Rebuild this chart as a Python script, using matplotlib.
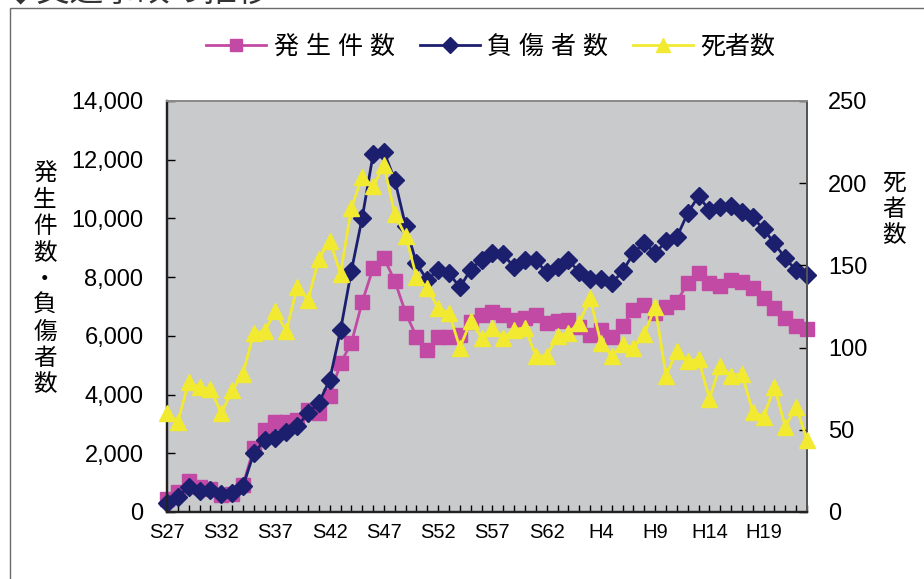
import matplotlib
matplotlib.use('Agg')
import matplotlib.pyplot as plt
from matplotlib.lines import Line2D
from matplotlib.ticker import FuncFormatter, MultipleLocator
from matplotlib.patches import Rectangle

plt.rcParams['font.family'] = ['Liberation Sans', 'Noto Sans CJK JP']

# S27 (1952) .. H23 (2011)
tick_labels = ['S27', 'S32', 'S37', 'S42', 'S47', 'S52', 'S57', 'S62',
               'H4', 'H9', 'H14', 'H19']

incidents = [450, 680, 1070, 850, 800, 580, 620, 920, 2170, 2780,
             3060, 3080, 3120, 3470, 3380, 3940, 5070, 5760, 7160, 8310,
             8650, 7870, 6780, 5970, 5520, 5970, 5970, 6030, 6480, 6710,
             6820, 6710, 6540, 6600, 6710, 6430, 6520, 6540, 6310, 6030,
             6200, 5970, 6340, 6880, 7060, 6780, 6990, 7160, 7800, 8140,
             7800, 7700, 7900, 7830, 7620, 7280, 6940, 6600, 6340, 6230]

injured = [300, 520, 860, 700, 750, 620, 660, 870, 2000, 2450,
           2510, 2740, 2930, 3360, 3720, 4500, 6200, 8220, 10030, 12180,
           12270, 11310, 9740, 8470, 7890, 8260, 8130, 7650, 8260, 8600,
           8810, 8780, 8330, 8600, 8570, 8160, 8330, 8600, 8160, 7920,
           7920, 7790, 8200, 8810, 9180, 8810, 9220, 9360, 10180, 10760,
           10280, 10380, 10410, 10210, 10040, 9630, 9150, 8640, 8230, 8060]

deaths = [60, 55, 79, 76, 75, 60, 74, 84, 109, 110,
          122, 110, 137, 129, 154, 165, 145, 185, 204, 198,
          211, 181, 168, 143, 136, 124, 121, 100, 116, 106,
          112, 106, 111, 112, 95, 95, 107, 109, 115, 130,
          103, 95, 102, 100, 108, 125, 83, 98, 92, 93,
          69, 89, 83, 84, 61, 58, 76, 52, 64, 44]

years = list(range(len(incidents)))

c_inc = '#C24AA4'
c_inj = '#1C1F6E'
c_dth = '#F2EA30'

fig = plt.figure(figsize=(9.24, 5.79), dpi=100)

# outer frame and heading (runs off the top edge)
fig.patches.append(Rectangle((10 / 924, -0.1), 1.1, 1 - 8 / 579 + 0.1,
                             transform=fig.transFigure, fill=False,
                             edgecolor='#6a6a6a', linewidth=1.0))
fig.text(0.004, 1 - 9 / 579, '◆交通事故の推移', fontsize=24, color='#333333',
         ha='left', va='bottom', family=['Noto Sans CJK JP'])

ax = fig.add_axes([167 / 924, 1 - 512 / 579, 640 / 924, 411 / 579])
ax.set_facecolor('#C8CACC')

ax.plot(years, incidents, color=c_inc, lw=2, marker='s', ms=10, zorder=2,
        clip_on=False)
ax.plot(years, injured, color=c_inj, lw=2, marker='D', ms=9, zorder=3,
        clip_on=False)

ax.set_xlim(0, len(years) - 1)
ax.set_ylim(0, 14000)
ax.yaxis.set_major_locator(MultipleLocator(2000))
ax.yaxis.set_major_formatter(FuncFormatter(lambda v, p: f'{int(v):,}'))
ax.set_xticks(range(0, len(years), 5))
ax.set_xticklabels(tick_labels)
ax.xaxis.set_minor_locator(MultipleLocator(1))

ax.tick_params(axis='y', direction='in', length=6, width=1, pad=17,
               labelsize=17, left=True, right=False)
ax.tick_params(axis='x', which='both', direction='in', length=5, width=1,
               pad=8, labelsize=14.5)

ax2 = ax.twinx()
ax2.plot(years, deaths, color=c_dth, lw=2, marker='^', ms=11, zorder=4,
         clip_on=False)
ax2.set_ylim(0, 250)
ax2.yaxis.set_major_locator(MultipleLocator(50))
ax2.tick_params(axis='y', direction='in', length=6, width=1, pad=15,
                labelsize=17)

for a in (ax, ax2):
    a.spines['left'].set_color('#222222')
    a.spines['left'].set_linewidth(1.6)
    a.spines['bottom'].set_color('#222222')
    a.spines['bottom'].set_linewidth(1.6)
    a.spines['top'].set_color('#8a8a8a')
    a.spines['top'].set_linewidth(1.4)
    a.spines['right'].set_color('#555555')
    a.spines['right'].set_linewidth(1.4)

# vertical axis titles
fig.text(45 / 924, 1 - 280 / 579, '\n'.join('発生件数・負傷者数'), fontsize=17,
         ha='center', va='center', linespacing=1.25)
fig.text(894 / 924, 1 - 210 / 579, '\n'.join('死者数'), fontsize=17,
         ha='center', va='center', linespacing=1.25)

handles = [
    Line2D([], [], color=c_inc, lw=2, marker='s', ms=9),
    Line2D([], [], color=c_inj, lw=2, marker='D', ms=8),
    Line2D([], [], color=c_dth, lw=2, marker='^', ms=10),
]
fig.legend(handles, ['発 生 件 数', '負 傷 者 数', '死者数'], loc='center',
           bbox_to_anchor=(491 / 924, 1 - 47 / 579), ncol=3, frameon=False,
           fontsize=18, handlelength=2.4, handletextpad=0.3,
           columnspacing=1.0)

fig.savefig('out.png', dpi=100)
